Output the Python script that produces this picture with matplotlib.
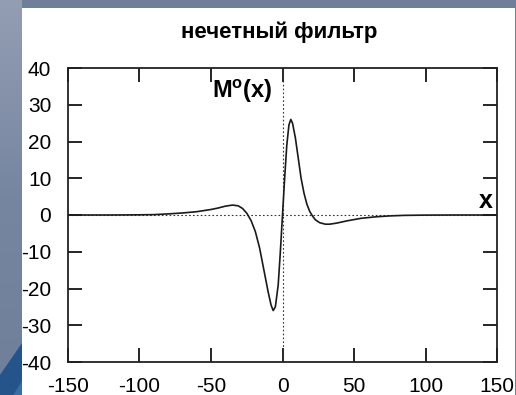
import matplotlib
matplotlib.use("Agg")
import matplotlib.pyplot as plt
import numpy as np
from matplotlib.patches import Rectangle, Polygon
from matplotlib.colors import LinearSegmentedColormap

plt.rcParams['font.family'] = ['Liberation Sans', 'DejaVu Sans']
plt.rcParams['axes.unicode_minus'] = False
plt.rcParams['mathtext.fontset'] = 'custom'
plt.rcParams['mathtext.rm'] = 'Liberation Sans'
plt.rcParams['mathtext.bf'] = 'Liberation Sans:bold'

# odd filter response M°(x), read point by point
x_vals = [-150, -120, -100, -90, -80, -70, -60, -50, -45, -40, -35, -31, -28, -25,
          -22, -19, -16, -13, -10, -8, -6.5, -5, -3, -1.5, 0, 1.5, 3, 4.5, 5.8,
          7, 9, 11, 13, 15, 17, 19, 21, 23, 26, 30, 33, 38, 45, 55, 65, 75, 85,
          100, 120, 150]
m_vals = [0, 0, 0.05, 0.1, 0.3, 0.55, 0.9, 1.5, 1.9, 2.4, 2.7, 2.5, 1.8, 0.5,
          -1.5, -4.5, -9, -15, -21, -24.5, -26, -25, -19, -10, 0, 10, 19, 24.5, 26,
          25, 21, 15.5, 10, 6, 3, 1, -0.3, -1.3, -2.1, -2.5, -2.5, -2.2, -1.6, -0.9,
          -0.5, -0.25, -0.1, -0.03, 0, 0]

x_ticks = [-150, -100, -50, 0, 50, 100, 150]
y_ticks = [-40, -30, -20, -10, 0, 10, 20, 30, 40]

W, H = 516, 395
fig = plt.figure(figsize=(W / 100, H / 100), dpi=100)
fig.patch.set_facecolor('#6f7f99')

# slide background: left strip fading lighter downwards, blue wedge at the bottom
bg = fig.add_axes([0, 0, 22 / W, 1])
bg.set_axis_off()
strip = LinearSegmentedColormap.from_list('strip', ['#6f7f99', '#7685a0', '#939eb3'])
bg.imshow(np.linspace(1, 0, 200).reshape(-1, 1), cmap=strip, aspect='auto',
          extent=[0, 1, 0, 1])
bg.add_patch(Polygon([(0, 0), (0, 20 / H), (1, 52 / H), (1, 0)], closed=True,
                     facecolor='#24548a', edgecolor='none'))
bg.add_patch(Polygon([(0.6, 0), (1, 14 / H), (1, 0)], closed=True,
                     facecolor='#3a6da3', edgecolor='none'))
bg.set_xlim(0, 1)
bg.set_ylim(0, 1)

fig.patches.append(Rectangle((22 / W, 0), (515 - 22) / W, (H - 8) / H,
                             transform=fig.transFigure, facecolor='white',
                             edgecolor='none', zorder=-1))

ax = fig.add_axes([68 / W, (H - 362) / H, (497 - 68) / W, (362 - 68) / H])
ax.set_zorder(1)
ax.set_facecolor('white')

ax.axhline(0, color='#333333', lw=0.8, ls=(0, (1.5, 2)))
ax.axvline(0, color='#333333', lw=0.8, ls=(0, (1.5, 2)))
ax.plot(x_vals, m_vals, color='#1a1a1a', lw=1.2)

ax.set_xlim(-150, 150)
ax.set_ylim(-40, 40)
ax.set_xticks(x_ticks)
ax.set_yticks(y_ticks)
ax.tick_params(direction='in', length=10, width=1.2, top=True, right=True,
               labelsize=15, colors='black')
ax.tick_params(axis='y', pad=12)
ax.tick_params(axis='x', pad=11)
for s in ax.spines.values():
    s.set_linewidth(1.3)
    s.set_color('#222222')

fig.text(279 / W, 1 - 32 / H, 'нечетный фильтр', fontsize=16,
         fontweight='bold', ha='center', va='center')
ax.text(-49, 33.5, r'$\mathbf{M^{o}(x)}$', fontsize=17, ha='left', va='center')
ax.text(147, 3.8, 'x', fontsize=18, fontweight='bold', ha='right', va='center')

fig.savefig('out.png', dpi=100, facecolor=fig.get_facecolor())
